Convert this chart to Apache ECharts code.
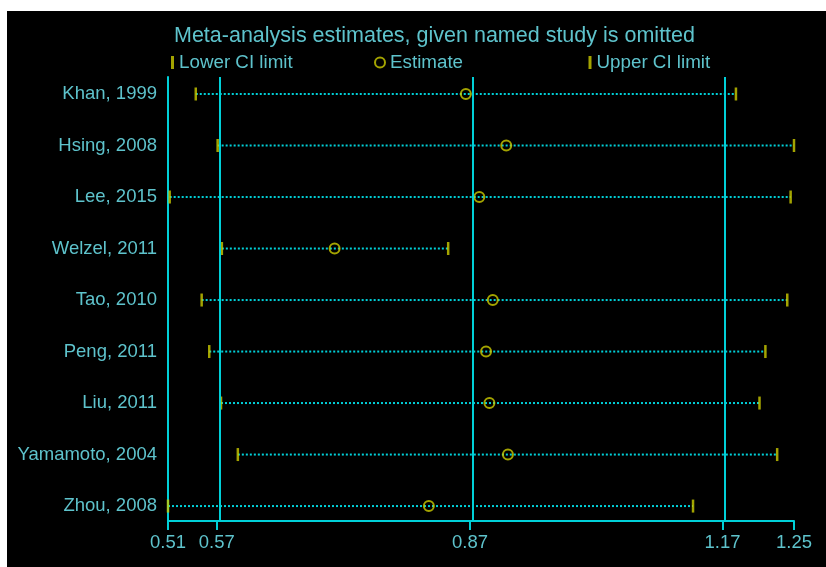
<!DOCTYPE html>
<html>
<head>
<meta charset="utf-8">
<script src="https://cdn.jsdelivr.net/npm/echarts@6/dist/echarts.min.js"></script>
<style>
  html, body { margin: 0; padding: 0; background: #ffffff; }
  #chart { position: absolute; left: 7px; top: 11px; width: 819px; height: 556px; background: #000000; }
</style>
</head>
<body>
<div id="chart"></div>
<script>
// Studies, listed top to bottom
const studies = ['Khan, 1999', 'Hsing, 2008', 'Lee, 2015', 'Welzel, 2011', 'Tao, 2010',
                 'Peng, 2011', 'Liu, 2011', 'Yamamoto, 2004', 'Zhou, 2008'];

// Pooled estimate with the named study left out, and its confidence limits
const lowerCI  = [0.541, 0.567, 0.510, 0.572, 0.548, 0.557, 0.571, 0.591, 0.508];
const estimate = [0.862, 0.910, 0.878, 0.706, 0.894, 0.886, 0.890, 0.912, 0.818];
const upperCI  = [1.183, 1.252, 1.248, 0.841, 1.244, 1.218, 1.211, 1.232, 1.132];

// Overall pooled result (reference lines)
const overall = [0.566, 0.867, 1.167];

// X axis tick positions (labels shown to two decimals)
const tickValues = [0.508, 0.566, 0.867, 1.167, 1.252];

const LINE = '#00d0d8';
const TEXT = '#5ec3cc';
const YELLOW = '#cccc00';
const FONT = "'Liberation Sans', Arial, Helvetica, sans-serif";

const rows = studies.map((_, i) => i);

const chart = echarts.init(document.getElementById('chart'), null, { renderer: 'canvas' });

const legendCommon = {
  top: 42,
  padding: 0,
  itemGap: 0,
  selectedMode: false,
  textStyle: { color: TEXT, fontSize: 18.8, fontFamily: FONT }
};

chart.setOption({
  backgroundColor: '#000000',
  animation: false,
  textStyle: { fontFamily: FONT },
  title: {
    text: 'Meta-analysis estimates, given named study is omitted',
    left: 162,
    top: 9,
    textStyle: { color: TEXT, fontSize: 21.5, fontWeight: 'normal', fontFamily: FONT }
  },
  legend: [
    Object.assign({}, legendCommon, {
      left: 164, itemWidth: 3, itemHeight: 13,
      data: [{ name: 'Lower CI limit', icon: 'rect', itemStyle: { color: YELLOW } }]
    }),
    Object.assign({}, legendCommon, {
      left: 367, itemWidth: 10, itemHeight: 10,
      data: [{ name: 'Estimate', icon: 'circle',
               itemStyle: { color: 'rgba(0,0,0,0)', borderColor: YELLOW, borderWidth: 2 } }]
    }),
    Object.assign({}, legendCommon, {
      left: 581.5, itemWidth: 3, itemHeight: 13,
      data: [{ name: 'Upper CI limit', icon: 'rect', itemStyle: { color: YELLOW } }]
    })
  ],
  grid: { left: 161, right: 32, top: 66, bottom: 46, containLabel: false },
  xAxis: {
    type: 'value',
    position: 'bottom',
    min: tickValues[0],
    max: tickValues[tickValues.length - 1],
    splitLine: { show: false },
    axisLine: { show: true, onZero: false, lineStyle: { color: LINE, width: 2 } },
    axisTick: { show: true, length: 9, customValues: tickValues, lineStyle: { color: LINE, width: 2 } },
    axisLabel: {
      customValues: tickValues,
      formatter: v => v.toFixed(2),
      color: TEXT, fontSize: 18.5, fontFamily: FONT, margin: 12
    }
  },
  yAxis: {
    type: 'value',
    inverse: true,
    position: 'left',
    min: -0.33,
    max: 8.29,
    splitLine: { show: false },
    axisLine: { show: true, onZero: false, lineStyle: { color: LINE, width: 2 } },
    axisTick: { show: false },
    axisLabel: {
      customValues: rows,
      formatter: v => studies[Math.round(v)] || '',
      color: TEXT, fontSize: 18.5, fontFamily: FONT, margin: 11
    }
  },
  series: [
    {
      // dotted span from lower to upper limit for each study
      type: 'custom',
      name: 'span',
      z: 2,
      silent: true,
      data: rows.map(i => [lowerCI[i], upperCI[i], i]),
      encode: { x: [0, 1], y: 2 },
      renderItem: (params, api) => {
        const p0 = api.coord([api.value(0), api.value(2)]);
        const p1 = api.coord([api.value(1), api.value(2)]);
        return {
          type: 'line',
          shape: { x1: p0[0], y1: p0[1], x2: p1[0], y2: p1[1] },
          style: { stroke: LINE, lineWidth: 2, lineDash: [2, 2] }
        };
      },
      markLine: {
        silent: true,
        symbol: 'none',
        label: { show: false },
        lineStyle: { color: LINE, width: 2, type: 'solid' },
        data: overall.map(v => ({ xAxis: v }))
      }
    },
    {
      type: 'scatter',
      name: 'Lower CI limit',
      z: 4,
      symbol: 'rect',
      symbolSize: [2.5, 13],
      itemStyle: { color: YELLOW },
      data: rows.map(i => [lowerCI[i], i])
    },
    {
      type: 'scatter',
      name: 'Estimate',
      z: 4,
      symbol: 'circle',
      symbolSize: 10,
      itemStyle: { color: 'rgba(0,0,0,0)', borderColor: YELLOW, borderWidth: 2 },
      data: rows.map(i => [estimate[i], i])
    },
    {
      type: 'scatter',
      name: 'Upper CI limit',
      z: 4,
      symbol: 'rect',
      symbolSize: [2.5, 13],
      itemStyle: { color: YELLOW },
      data: rows.map(i => [upperCI[i], i])
    }
  ]
});
</script>
</body>
</html>
